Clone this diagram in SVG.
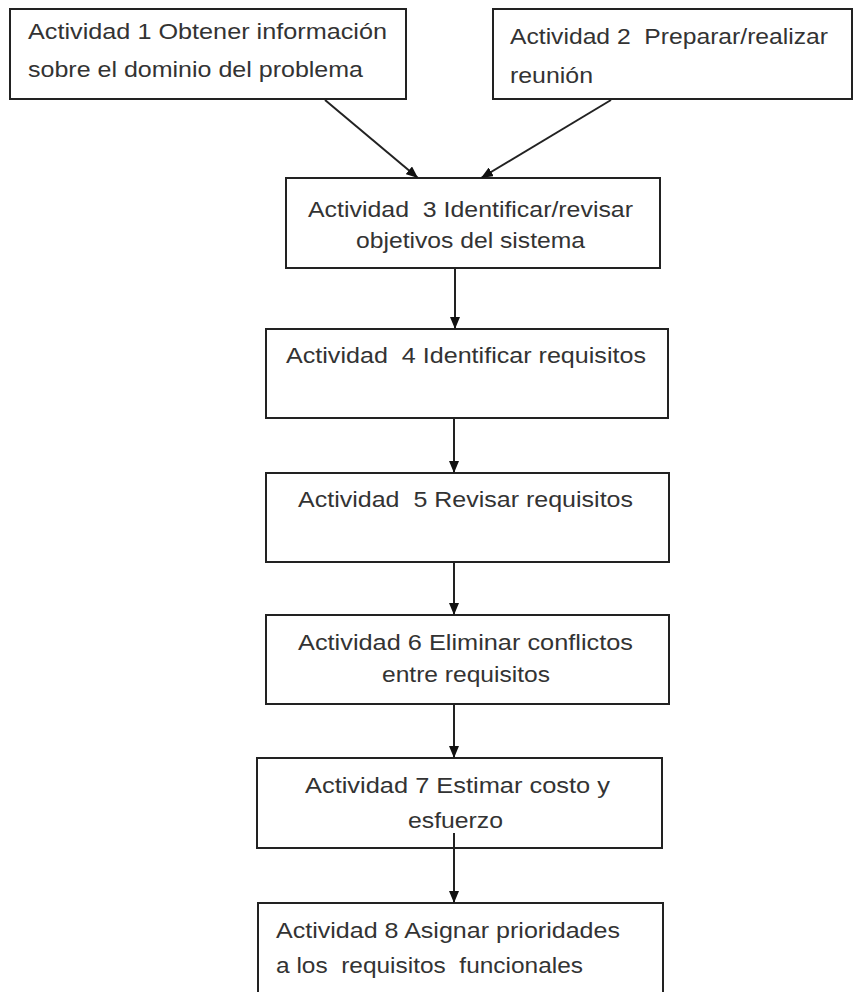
<svg xmlns="http://www.w3.org/2000/svg" width="854" height="992" viewBox="0 0 854 992">
<defs>
<style>
.box{fill:#fff;stroke:#222;stroke-width:2}
.t{font-family:"Liberation Sans",Arial,sans-serif;font-size:22px;fill:#333}
.c{stroke:#222;stroke-width:2;fill:none;marker-end:url(#ah)}
</style>
<marker id="ah" viewBox="0 0 12 10" refX="12" refY="5" markerWidth="12" markerHeight="10" markerUnits="userSpaceOnUse" orient="auto">
<path d="M0,0 L12,5 L0,10 Z" fill="#111"/>
</marker>
</defs>
<rect width="854" height="992" fill="#fff"/>
<g id="n1">
<rect class="box" x="10" y="9" width="396" height="90"/>
<text class="t" x="28" y="39" textLength="359" lengthAdjust="spacingAndGlyphs">Actividad 1 Obtener información</text>
<text class="t" x="28" y="77" textLength="335" lengthAdjust="spacingAndGlyphs">sobre el dominio del problema</text>
</g>
<g id="n2">
<rect class="box" x="493" y="9" width="359" height="90"/>
<text class="t" x="510" y="44" textLength="318" lengthAdjust="spacingAndGlyphs" xml:space="preserve">Actividad 2  Preparar/realizar</text>
<text class="t" x="510" y="83" textLength="83" lengthAdjust="spacingAndGlyphs">reunión</text>
</g>
<g id="n3">
<rect class="box" x="286" y="178" width="374" height="90"/>
<text class="t" x="308" y="217" textLength="325" lengthAdjust="spacingAndGlyphs" xml:space="preserve">Actividad  3 Identificar/revisar</text>
<text class="t" x="356" y="248" textLength="229" lengthAdjust="spacingAndGlyphs">objetivos del sistema</text>
</g>
<g id="n4">
<rect class="box" x="266" y="329" width="402" height="89"/>
<text class="t" x="286" y="363" textLength="360" lengthAdjust="spacingAndGlyphs" xml:space="preserve">Actividad  4 Identificar requisitos</text>
</g>
<g id="n5">
<rect class="box" x="266" y="473" width="403" height="89"/>
<text class="t" x="298" y="507" textLength="335" lengthAdjust="spacingAndGlyphs" xml:space="preserve">Actividad  5 Revisar requisitos</text>
</g>
<g id="n6">
<rect class="box" x="266" y="615" width="403" height="89"/>
<text class="t" x="298" y="650" textLength="335" lengthAdjust="spacingAndGlyphs">Actividad 6 Eliminar conflictos</text>
<text class="t" x="382" y="682" textLength="168" lengthAdjust="spacingAndGlyphs">entre requisitos</text>
</g>
<g id="n7">
<rect class="box" x="257" y="758" width="405" height="90"/>
<text class="t" x="305" y="793" textLength="305" lengthAdjust="spacingAndGlyphs">Actividad 7 Estimar costo y</text>
<text class="t" x="408" y="828" textLength="95" lengthAdjust="spacingAndGlyphs">esfuerzo</text>
</g>
<g id="n8">
<rect class="box" x="258" y="903" width="405" height="100"/>
<text class="t" x="276" y="938" textLength="344" lengthAdjust="spacingAndGlyphs">Actividad 8 Asignar prioridades</text>
<text class="t" x="276" y="973" textLength="307" lengthAdjust="spacingAndGlyphs" xml:space="preserve">a los  requisitos  funcionales</text>
</g>
<g id="connectors">
<line class="c" x1="325" y1="100" x2="418" y2="178"/>
<line class="c" x1="611" y1="100" x2="481" y2="178"/>
<line class="c" x1="455" y1="268" x2="455" y2="329"/>
<line class="c" x1="454" y1="418" x2="454" y2="473"/>
<line class="c" x1="454" y1="562" x2="454" y2="615"/>
<line class="c" x1="454" y1="704" x2="454" y2="758"/>
<line class="c" x1="454" y1="833" x2="454" y2="903"/>
</g>
</svg>
